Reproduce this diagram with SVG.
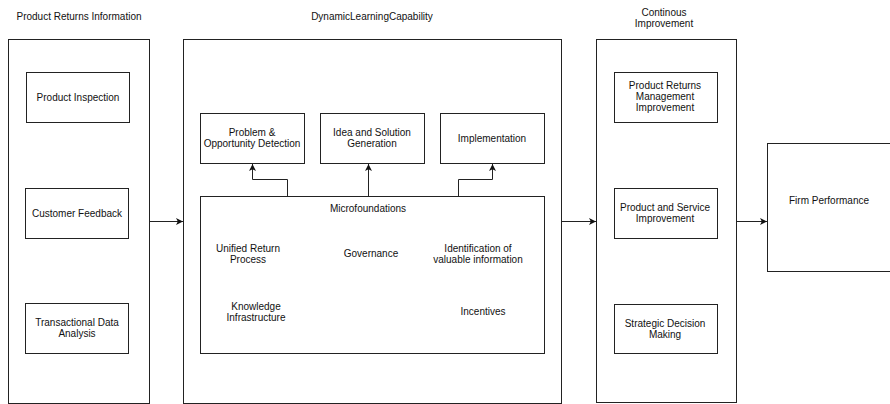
<svg xmlns="http://www.w3.org/2000/svg" width="890" height="404" viewBox="0 0 890 404">
<defs>
<style>
rect{fill:#fff;stroke:#222;stroke-width:1}
text{font-family:"Liberation Sans",Arial,sans-serif;font-size:10px;fill:#111;text-anchor:middle}
.c{fill:none;stroke:#222;stroke-width:1}
</style>
<marker id="ah" markerWidth="8" markerHeight="7" refX="7" refY="3.5" orient="auto" markerUnits="userSpaceOnUse">
<path d="M0,0 L7,3.5 L0,7 L1.8,3.5 z" fill="#111"/>
</marker>
</defs>
<rect x="0" y="0" width="890" height="404" style="stroke:none"/>
<g id="titles">
<text x="79" y="20">Product Returns Information</text>
<text x="372" y="20">DynamicLearningCapability</text>
<text x="664" y="16">Continous</text>
<text x="664" y="27">Improvement</text>
</g>
<g id="product-returns-information"><rect x="8.5" y="39.5" width="141" height="364"/></g>
<g id="product-inspection"><rect x="26.5" y="72.5" width="103" height="50"/><text x="78" y="101">Product Inspection</text></g>
<g id="customer-feedback"><rect x="25.5" y="188.5" width="103" height="50"/><text x="77" y="217">Customer Feedback</text></g>
<g id="transactional-data"><rect x="25.5" y="303.5" width="103" height="50"/><text x="77" y="326">Transactional Data</text><text x="77" y="337">Analysis</text></g>
<g id="dynamic-learning-capability"><rect x="183.5" y="39.5" width="378" height="364"/></g>
<g id="problem-detection"><rect x="200.5" y="113.5" width="104" height="50"/><text x="252" y="136">Problem &amp;</text><text x="252" y="147">Opportunity Detection</text></g>
<g id="idea-generation"><rect x="320.5" y="113.5" width="104" height="50"/><text x="372" y="136">Idea and Solution</text><text x="372" y="147">Generation</text></g>
<g id="implementation"><rect x="440.5" y="113.5" width="104" height="50"/><text x="492" y="142">Implementation</text></g>
<g id="microfoundations"><rect x="200.5" y="196.5" width="344" height="157"/>
<text x="368" y="212">Microfoundations</text>
<text x="248" y="252">Unified Return</text><text x="248" y="263">Process</text>
<text x="371" y="257">Governance</text>
<text x="478" y="252">Identification of</text><text x="478" y="263">valuable information</text>
<text x="256" y="310">Knowledge</text><text x="256" y="321">Infrastructure</text>
<text x="483" y="315">Incentives</text>
</g>
<g id="continous-improvement"><rect x="596.5" y="39.5" width="140" height="363"/></g>
<g id="returns-mgmt-improvement"><rect x="614.5" y="72.5" width="103" height="50"/><text x="665" y="89">Product Returns</text><text x="665" y="100">Management</text><text x="665" y="111">Improvement</text></g>
<g id="product-service-improvement"><rect x="614.5" y="188.5" width="103" height="50"/><text x="665" y="211">Product and Service</text><text x="665" y="222">Improvement</text></g>
<g id="strategic-decision"><rect x="614.5" y="304.5" width="103" height="49"/><text x="665" y="327">Strategic Decision</text><text x="665" y="338">Making</text></g>
<g id="firm-performance"><rect x="767.5" y="143.5" width="130" height="128"/><text x="829" y="204">Firm Performance</text></g>
<g id="connectors">
<path class="c" d="M149.5,221.5 H183" marker-end="url(#ah)"/>
<path class="c" d="M561.5,221.5 H596" marker-end="url(#ah)"/>
<path class="c" d="M736.5,221.5 H767" marker-end="url(#ah)"/>
<path class="c" d="M287.5,196.5 V179.5 H252.5 V164" marker-end="url(#ah)"/>
<path class="c" d="M368.5,196.5 V164" marker-end="url(#ah)"/>
<path class="c" d="M458.5,196.5 V179.5 H492.5 V164" marker-end="url(#ah)"/>
</g>
</svg>
